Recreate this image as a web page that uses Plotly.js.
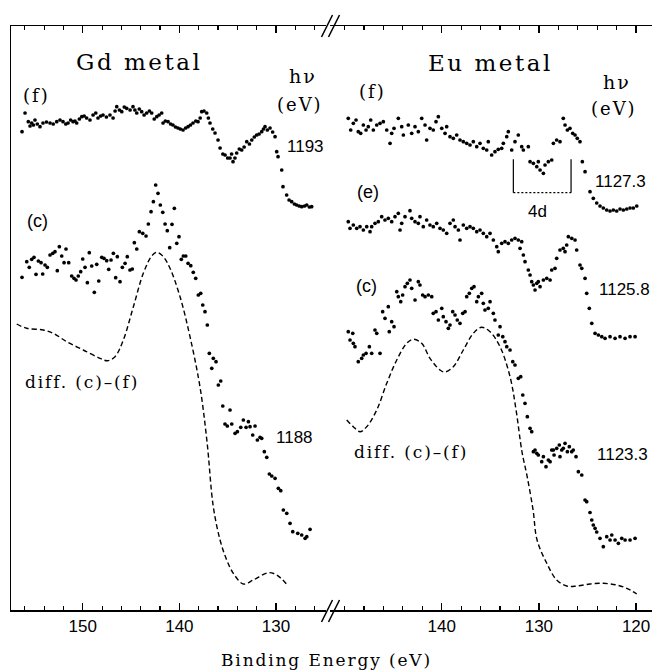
<!DOCTYPE html>
<html>
<head>
<meta charset="utf-8">
<script src="https://cdn.plot.ly/plotly-3.0.1.min.js"></script>
<style>
html,body{margin:0;padding:0;background:#fff;}
#chart{width:652px;height:671px;}
text.annotation-text[style*="Serif"]{letter-spacing:0.11em;}
</style>
</head>
<body>
<div id="chart"></div>
<script>
// ---------- Gd metal (left panel) ----------
const gdTicks = [150, 140, 130];
const gdF_E = [156.28,155.97,155.63,155.45,155.28,155.10,154.94,154.70,154.42,154.11,153.75,153.38,153.05,152.69,152.35,152.04,151.75,151.52,151.25,151.00,150.80,150.62,150.35,150.10,149.85,149.59,149.25,148.93,148.65,148.42,148.15,147.90,147.55,147.18,146.86,146.65,146.48,146.20,145.96,145.70,145.45,145.10,144.80,144.60,144.41,144.15,143.90,143.65,143.38,143.10,142.86,142.60,142.34,142.10,141.83,141.69,141.45,141.17,140.90,140.66,140.40,140.14,139.90,139.62,139.35,139.10,138.85,138.59,138.30,138.07,137.85,137.69,137.45,137.17,137.00,136.83,136.55,136.31,136.00,135.79,135.50,135.27,135.00,134.76,134.60,134.45,134.25,134.07,133.80,133.55,133.30,133.03,132.75,132.51,132.25,132.00,131.75,131.48,131.30,131.14,130.90,130.62,130.35,130.10,129.93,129.79,129.41,129.28,128.90,128.65,128.38,128.10,127.86,127.60,127.34,127.05,126.82,126.55,126.31];
const gdF_I = [478.3,497,488.3,484,487,485,490,486,483.3,487,488,487,486,488.3,490,488.3,486,487,490,488.3,489,487,491,493.3,494,492,490,495,497,492,494,495,493,495,492,499,503.3,500,498.3,503,501.7,500,503.3,500,497,501,498.3,495,497,499,497,491,493.3,495,497,487,489,488.3,486,485,483,482,481,480,482,483.3,485,487,489,488.3,492,498.3,499,497,492,487,481,477,470,462,456,455,452,452,456,448.3,452,457,461,460,463,468.3,466,470,473,475,476,478.3,481,483.3,480,482,478,473.3,458.3,453.3,440,423.3,415,410,408.3,406,405,404,403.3,404,405,403,403.3];

const gdC_E = [156.28,155.79,155.53,155.28,155.04,154.83,154.59,154.31,154.14,153.90,153.66,153.38,153.10,152.87,152.63,152.42,152.17,151.93,151.73,151.45,151.14,150.90,150.69,150.46,150.21,150.00,149.76,149.52,149.32,149.07,148.80,148.55,148.34,148.03,147.80,147.52,147.31,147.07,146.83,146.59,146.42,146.14,145.90,145.62,145.39,145.11,144.87,144.66,144.41,144.14,143.79,143.45,143.21,142.93,142.69,142.45,142.21,141.97,141.72,141.48,141.25,141.00,140.76,140.52,140.27,140.04,139.80,139.59,139.34,139.10,138.82,138.56,138.31,138.04,137.79,137.58,137.35,137.11,136.90,136.65,136.49,136.21,135.97,135.72,135.51,135.28,135.04,134.76,134.58,134.24,134.00,133.65,133.38,133.10,132.86,132.69,132.41,132.17,131.93,131.65,131.48,131.21,130.96,130.69,130.44,130.10,129.76,129.51,129.24,128.89,128.55,128.27,127.75,127.34,126.99,126.82,126.48];
const gdC_I = [332.7,348.3,342.7,350.7,352.7,335.7,349,347.3,336,345,342.7,355,356.7,358.3,339.3,363.3,354,347.3,361,347.3,334,331.7,330,334,338.3,351,342.7,327.3,357.3,344,317.7,345.7,329,352.7,351.7,349.3,340.7,350,356.7,332.3,353.3,328.3,342.7,346.7,353.3,340,341,367.3,361,378.3,376.7,374,386,398.3,408.3,425,416.7,405,397.7,386,379.3,362.3,385.7,401.7,366.7,373.3,350.7,354,354,346.7,344.3,337.7,331.7,315,316.7,305,298.3,285,256.7,241.7,251.7,248.3,225,229,204,186,184,200,186,176.7,178.3,182.7,190,182.7,188.3,183.3,175,184,170,172.7,171.7,158.3,152.7,136,134,131.7,121.7,119.3,100,96.7,86.7,78.3,76.7,75,71.7,73.3,80.7];

const gdDiff_E = [156.83,155.79,154.08,153.04,151.66,149.94,148.21,147.45,146.66,145.80,144.76,143.73,142.86,142.34,141.66,140.97,139.93,138.90,137.87,137.14,136.49,135.79,135.10,134.42,133.38,132.35,130.80,129.93,128.73];
const gdDiff_I = [286,281.7,280,276.7,268.3,260,251.7,249.3,253.3,270,303.3,336.7,354,357.7,353.3,341.7,313.3,273.3,223.3,168.3,103.3,70,50,36.7,26,30,37.3,35,24];

// ---------- Eu metal (right panel) ----------
const euTicks = [140, 130, 120];
const euF_E = [149.62,149.37,149.10,148.82,148.59,148.34,148.07,147.79,147.56,147.31,147.04,146.69,146.35,146.01,145.66,145.32,145.15,144.91,144.47,144.12,143.95,143.44,143.09,142.75,142.41,142.06,141.72,141.55,141.21,140.87,140.59,140.35,140.00,139.66,139.49,139.15,138.81,138.46,138.12,137.78,137.43,137.09,136.75,136.40,136.06,135.72,135.37,135.21,134.86,134.52,134.18,133.83,133.66,133.31,133.15,132.80,132.46,132.12,131.77,131.60,131.09,130.91,130.57,130.22,130.06,129.88,129.54,129.37,129.03,128.68,128.51,128.17,127.83,127.49,127.31,127.07,126.80,126.52,126.28,126.05,125.77,125.53,125.25,124.74,124.40,124.05,123.71,123.37,123.02,122.68,122.34,121.99,121.65,121.31,120.96,120.62,120.28,119.93];
const euF_I = [491.7,480,486.7,490,478.3,476.7,485,480,483.3,490,480,485,486.7,488.3,480,466.7,476.7,481.7,491.7,483.3,475,485,476.7,483.3,478.3,491.7,485,470,481.7,480,488.3,493.3,481.7,476.7,483.3,473.3,471.7,475,470,468.3,466.7,465,468.3,463.3,466.7,461.7,460,468.3,455,458.3,460.7,461.7,466.7,473.3,478.3,460,468.3,475,463.3,460,463.3,448.3,446.7,443.3,448.3,440,436.7,445,448.3,450,466.7,470,468.3,491.7,485,480,481.7,476.7,475,471.7,468.3,448.3,438.3,418.3,411.7,407,404,402,400,399,400,399,401,400,401,402,402,404];

const euE_E = [149.62,149.44,149.10,148.75,148.41,148.07,147.72,147.38,147.21,146.87,146.53,146.18,145.84,145.50,145.15,144.81,144.47,144.29,144.12,143.78,143.27,143.09,142.75,142.41,142.24,141.90,141.55,141.21,140.87,140.52,140.18,139.84,139.49,139.15,138.81,138.63,138.29,138.12,137.78,137.43,137.09,136.75,136.40,136.06,135.72,135.37,135.03,134.69,134.34,134.18,133.83,133.49,133.15,132.80,132.46,132.12,131.94,131.77,131.60,131.43,131.09,130.91,130.74,130.57,130.40,130.22,130.06,129.88,129.54,129.19,128.85,128.68,128.34,128.17,127.83,127.49,127.31,127.14,126.97,126.62,126.28,126.11,125.77,125.59,125.25,125.08,124.81,124.56,124.22,123.88,123.53,123.19,122.68,122.16,121.65,121.13,120.62,120.10];
const euE_I = [388.3,381.7,385,381.7,383.3,380,383.3,378.3,383.3,386.7,388.3,393.3,390,391.7,388.3,393.3,396.7,380,386.7,393.3,399.3,391.7,388.3,386.7,393.3,383.3,390,385,383.3,386.7,381.7,380,376.7,386.7,390,383.3,380,370,385,381.7,383.3,381.7,378.3,380,376.7,373.3,376.7,370,363.3,358.3,366.7,368.3,366.7,370,371.7,370,361.7,368.3,355,348.3,340,335,328.3,325,320,326.7,328.3,323.3,330,331.7,330,340,341.7,351.7,360,361.7,358.3,365,373.3,371.7,370,360,345,341.7,331.7,316.7,301.7,286.7,276.7,275,273.3,271.7,273.3,271.7,273.3,271.7,273.3,273.3];

const euC_E = [149.62,149.44,149.16,149.10,148.93,148.59,148.24,148.07,147.79,147.45,147.21,146.87,146.69,146.35,146.08,145.84,145.50,145.40,145.15,144.91,144.63,144.47,144.22,144.02,143.78,143.54,143.27,143.09,142.75,142.41,142.24,141.96,141.72,141.38,141.03,140.87,140.59,140.35,140.00,139.84,139.56,139.32,139.15,138.87,138.63,138.40,138.12,137.84,137.60,137.43,137.16,136.91,136.68,136.40,136.23,135.89,135.72,135.55,135.21,135.03,134.69,134.52,134.18,134.00,133.72,133.49,133.31,132.97,132.69,132.46,132.12,131.87,131.66,131.43,131.19,130.91,130.74,130.57,130.40,130.22,130.06,129.71,129.54,129.27,129.03,128.85,128.68,128.51,128.44,128.17,127.90,127.83,127.65,127.49,127.31,127.07,126.87,126.62,126.46,126.18,125.94,125.59,125.25,125.08,124.74,124.56,124.40,124.22,124.05,123.71,123.37,123.02,122.68,122.50,122.16,121.82,121.47,121.13,120.62,120.10];
const euC_I = [278.3,270,276.7,266.7,263.3,248.3,251.7,255,256.7,263.3,256.7,280,276.7,256.7,298.3,291.7,303.3,278.3,288.3,283.3,318.3,313.3,308.3,315,323.3,326.7,330,321.7,310,328.3,325,315,313.3,315,313.3,296.7,298.3,290,301.7,293.3,288.3,281.7,285,298.3,295,290,286.7,296.7,298.3,313.3,316.7,321.7,323.3,308.3,313.3,316.7,306.7,300,301.7,308.3,296.7,290,275,283.3,273.3,268.3,263.3,260,248.3,245,231.7,233.3,215,206.7,193.3,181.7,178.3,158.3,160,156.7,155,148.3,153.3,143.3,150,148.3,160,160,155,161.7,165,153.3,160,161.7,166.7,158.3,163.3,158.3,160,153.3,138.3,135,110,108.3,97.5,90,85,81.7,78,71.7,63.3,73.3,70,75,70,66.7,71.7,70,70,71.7];

const euDiff_E = [149.78,149.10,148.41,147.72,146.69,145.66,144.63,143.60,142.93,142.06,141.21,140.18,139.66,138.81,137.78,136.75,135.89,135.03,134.00,132.97,132.35,131.74,131.22,130.60,130.19,129.19,128.17,127.14,126.11,124.74,123.37,121.99,120.96,119.93];
const euDiff_I = [190,183.3,178.3,183.3,200,226.7,250,266.7,270.7,266.7,251.7,240,238,243.3,260,276.7,282.7,278.3,263.3,233.3,200,158,134,100,70,46.7,30,24,24,26,26.7,25,21.7,16];

// 4d bracket (Eu, spectrum f)
const bracketE = [132.63, 132.63, 126.69, 126.69];
const bracketI = [450.7, 417.3, 417.3, 450.7];

const dotMarker = {color: '#000', size: 3.7};
const dashLine = {color: '#000', width: 1.4, dash: '5px,3px', shape: 'spline', smoothing: 1};

const traces = [
  {x: gdF_E, y: gdF_I, xaxis: 'x', yaxis: 'y', mode: 'markers', marker: dotMarker, name: 'Gd (f) 1193'},
  {x: gdC_E, y: gdC_I, xaxis: 'x', yaxis: 'y', mode: 'markers', marker: dotMarker, name: 'Gd (c) 1188'},
  {x: gdDiff_E, y: gdDiff_I, xaxis: 'x', yaxis: 'y', mode: 'lines', line: dashLine, name: 'Gd diff'},
  {x: euF_E, y: euF_I, xaxis: 'x2', yaxis: 'y', mode: 'markers', marker: dotMarker, name: 'Eu (f) 1127.3'},
  {x: euE_E, y: euE_I, xaxis: 'x2', yaxis: 'y', mode: 'markers', marker: dotMarker, name: 'Eu (e) 1125.8'},
  {x: euC_E, y: euC_I, xaxis: 'x2', yaxis: 'y', mode: 'markers', marker: dotMarker, name: 'Eu (c) 1123.3'},
  {x: euDiff_E, y: euDiff_I, xaxis: 'x2', yaxis: 'y', mode: 'lines', line: dashLine, name: 'Eu diff'},
  {x: bracketE.slice(0,2), y: bracketI.slice(0,2), xaxis: 'x2', yaxis: 'y', mode: 'lines', line: {color: '#000', width: 1.2}},
  {x: bracketE.slice(1,3), y: bracketI.slice(1,3), xaxis: 'x2', yaxis: 'y', mode: 'lines', line: {color: '#000', width: 1.2, dash: '2px,2px'}},
  {x: bracketE.slice(2,4), y: bracketI.slice(2,4), xaxis: 'x2', yaxis: 'y', mode: 'lines', line: {color: '#000', width: 1.2}}
];

const W = 652, H = 671, L = 11, R = 0, T = 26, B = 61;
const pw = W - L - R, ph = H - T - B;
const px = v => (v - L) / pw;
const py = v => (H - B - v) / ph;

const sansTick = {family: 'Liberation Sans, Arial, sans-serif', size: 17, color: '#000'};
const axisCommon = {
  showline: true, linecolor: '#000', linewidth: 1.5, mirror: 'allticks',
  ticks: 'inside', ticklen: 7, tickwidth: 1.3, tickcolor: '#000',
  minor: {dtick: 2, ticks: 'inside', ticklen: 4, tickwidth: 1.1, tickcolor: '#000', showgrid: false},
  showgrid: false, zeroline: false, tickfont: sansTick, fixedrange: true
};

const serif = (s) => ({family: 'DejaVu Serif, serif', size: s, color: '#000'});
const sans = (s) => ({family: 'Liberation Sans, Arial, sans-serif', size: s, color: '#000'});
function ann(text, x, y, xref, font, xanchor) {
  return {text: text, x: x, y: y, xref: xref, yref: 'y', showarrow: false, font: font,
          xanchor: xanchor || 'center', yanchor: 'middle'};
}

const annotations = [
  ann('Gd metal', 144.17, 548, 'x', serif(23)),
  ann('h\u03bd', 127.2, 534, 'x', serif(19)),
  ann('(eV)', 127.5, 506, 'x', serif(18)),
  ann('(f)', 154.83, 515, 'x', serif(18)),
  ann('1193', 126.9, 464, 'x', sans(17)),
  ann('(c)', 154.73, 389, 'x', sans(18)),
  ann('diff. (c)\u2013(f)', 150.07, 228, 'x', serif(17)),
  ann('1188', 128.14, 173, 'x', sans(17)),
  ann('Eu metal', 135.03, 547, 'x2', serif(23)),
  ann('h\u03bd', 121.96, 528, 'x2', serif(19)),
  ann('(eV)', 122.27, 502, 'x2', serif(18)),
  ann('(f)', 147.17, 519, 'x2', serif(18)),
  ann('1127.3', 124.4, 429, 'x2', sans(17), 'left'),
  ann('(e)', 147.59, 418, 'x2', sans(18)),
  ann('4d', 130.19, 399, 'x2', sans(17)),
  ann('1125.8', 124.05, 321, 'x2', sans(17), 'left'),
  ann('(c)', 147.79, 324, 'x2', sans(18)),
  ann('diff. (c)\u2013(f)', 143.16, 158, 'x2', serif(17)),
  ann('1123.3', 124.25, 156, 'x2', sans(17), 'left'),
  {text: 'Binding Energy (eV)', x: px(326), y: py(660), xref: 'paper', yref: 'paper', showarrow: false,
   font: serif(17), xanchor: 'center', yanchor: 'middle'}
];

// axis-break marks
const brk = (x0, y0, x1, y1) => ({type: 'line', xref: 'paper', yref: 'paper',
  x0: px(x0), y0: py(y0), x1: px(x1), y1: py(y1), line: {color: '#000', width: 1.5}});
const shapes = [
  brk(321.5, 37, 332.5, 15), brk(328.5, 37, 339.5, 15),
  brk(321.5, 622, 332.5, 600), brk(328.5, 622, 339.5, 600)
];

const layout = {
  width: W, height: H,
  margin: {l: L, r: R, t: T, b: B, pad: 0},
  paper_bgcolor: '#fff', plot_bgcolor: 'rgba(0,0,0,0)',
  showlegend: false,
  xaxis: Object.assign({}, axisCommon, {
    domain: [0, px(326)], range: [157.42, 124.83], tickvals: gdTicks, anchor: 'y'
  }),
  xaxis2: Object.assign({}, axisCommon, {
    domain: [px(330), 1], range: [151.50, 118.36], tickvals: euTicks, anchor: 'y'
  }),
  yaxis: {
    domain: [0, 1], range: [0, 584], showline: true, linecolor: '#000', linewidth: 1.5,
    showticklabels: false, ticks: '', showgrid: false, zeroline: false, fixedrange: true
  },
  annotations: annotations,
  shapes: shapes
};

Plotly.newPlot('chart', traces, layout, {staticPlot: true, displayModeBar: false});
</script>
</body>
</html>
